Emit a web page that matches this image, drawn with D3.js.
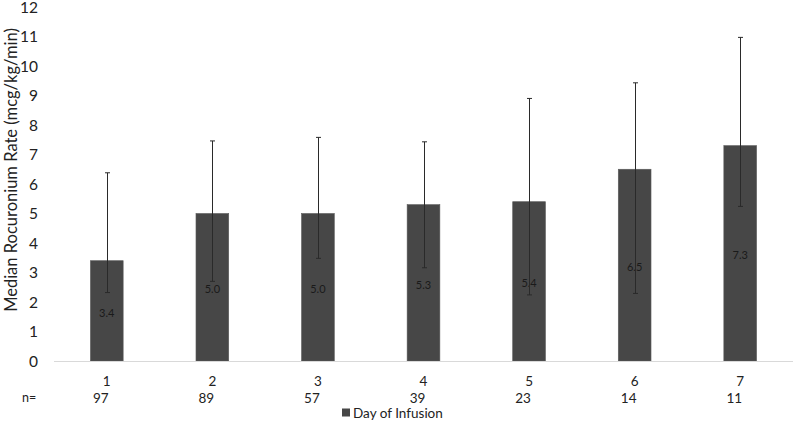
<!DOCTYPE html>
<html>
<head>
<meta charset="utf-8">
<script src="https://cdn.jsdelivr.net/npm/d3@7"></script>
<style>
  body { margin: 0; background: #fff; }
  svg text { font-family: Lato, "Open Sans", sans-serif; }
</style>
</head>
<body>
<div id="chart"></div>
<script>
var days = ["1", "2", "3", "4", "5", "6", "7"];
var counts = ["97", "89", "57", "39", "23", "14", "11"];
var medians = [3.4, 5.0, 5.0, 5.3, 5.4, 6.5, 7.3];
var lowErr = [2.32, 2.7, 3.48, 3.16, 2.24, 2.29, 5.24];
var highErr = [6.38, 7.46, 7.58, 7.43, 8.9, 9.43, 10.97];
var yTicks = [0, 1, 2, 3, 4, 5, 6, 7, 8, 9, 10, 11, 12];

var props = {
  width: 794,
  height: 421,
  left: 54,
  right: 793,
  top: 7,
  bottom: 361
};

var svg = d3.select("#chart").append("svg")
  .attr("width", props.width)
  .attr("height", props.height);

var x = d3.scaleBand().domain(days).range([props.left, props.right]).paddingInner(0.69).paddingOuter(0.345);
var y = d3.scaleLinear().domain([0, 12]).range([props.bottom, props.top]);

// y tick labels
svg.append("g")
  .selectAll("text")
  .data(yTicks)
  .enter().append("text")
  .attr("x", 38)
  .attr("y", function(d){ return y(d) + 0.5; })
  .attr("dy", "0.35em")
  .attr("text-anchor", "end")
  .style("font-size", "15.5px")
  .style("fill", "#222")
  .text(function(d){ return d; });

// y title
svg.append("text")
  .attr("transform", "translate(17," + 170 + ") rotate(-90)")
  .attr("text-anchor", "middle")
  .style("font-size", "16.5px")
  .style("fill", "#222")
  .text("Median Rocuronium Rate (mcg/kg/min)");

// bars
svg.append("g")
  .selectAll("rect")
  .data(medians)
  .enter().append("rect")
  .attr("x", function(d, i){ return x(days[i]); })
  .attr("y", function(d){ return y(d); })
  .attr("width", x.bandwidth())
  .attr("height", function(d){ return y(0) - y(d); })
  .style("fill", "#474747")
  .style("stroke", "#5a5a5a")
  .style("stroke-width", 0.6);

// axis baseline
svg.append("line")
  .attr("x1", props.left).attr("x2", props.right)
  .attr("y1", y(0) + 0.5).attr("y2", y(0) + 0.5)
  .style("stroke", "#d9d9d9")
  .style("stroke-width", 1);

// value labels
svg.append("g")
  .selectAll("text")
  .data(medians)
  .enter().append("text")
  .attr("x", function(d, i){ return x(days[i]) + x.bandwidth() / 2; })
  .attr("y", function(d){ return (y(d) + y(0)) / 2 + 2; })
  .attr("dy", "0.35em")
  .attr("text-anchor", "middle")
  .style("font-size", "11px")
  .style("fill", "#1a1a1a")
  .text(function(d){ return d.toFixed(1); });

// error bars
var errG = svg.append("g").style("stroke", "#2a2a2a").style("stroke-width", 1);
days.forEach(function(d, i){
  var cx = Math.round(x(d) + x.bandwidth() / 2) + 0.5;
  errG.append("line")
    .attr("x1", cx).attr("x2", cx)
    .attr("y1", y(highErr[i])).attr("y2", y(lowErr[i]));
  errG.append("line")
    .attr("x1", cx - 2.5).attr("x2", cx + 2.5)
    .attr("y1", y(highErr[i])).attr("y2", y(highErr[i]));
  errG.append("line")
    .attr("x1", cx - 2.5).attr("x2", cx + 2.5)
    .attr("y1", y(lowErr[i])).attr("y2", y(lowErr[i]));
});

// category labels and n values
svg.append("g")
  .selectAll("text")
  .data(days)
  .enter().append("text")
  .attr("x", function(d){ return x(d) + x.bandwidth() / 2; })
  .attr("y", 381)
  .attr("dy", "0.35em")
  .attr("text-anchor", "middle")
  .style("font-size", "13.5px")
  .style("fill", "#222")
  .text(function(d){ return d; });

svg.append("text")
  .attr("x", 22)
  .attr("y", 398)
  .attr("dy", "0.35em")
  .style("font-size", "12.5px")
  .style("fill", "#222")
  .text("n=");

svg.append("g")
  .selectAll("text")
  .data(counts)
  .enter().append("text")
  .attr("x", function(d, i){ return x(days[i]) + x.bandwidth() / 2 - 6; })
  .attr("y", 398)
  .attr("dy", "0.35em")
  .attr("text-anchor", "middle")
  .style("font-size", "13.5px")
  .style("fill", "#222")
  .text(function(d){ return d; });

// legend
var legend = svg.append("g").attr("transform", "translate(342,413)");
legend.append("rect")
  .attr("x", 0).attr("y", -4.5)
  .attr("width", 8).attr("height", 8)
  .style("fill", "#474747");
legend.append("text")
  .attr("x", 11)
  .attr("y", 0)
  .attr("dy", "0.35em")
  .style("font-size", "13.5px")
  .style("fill", "#222")
  .text("Day of Infusion");
</script>
</body>
</html>
